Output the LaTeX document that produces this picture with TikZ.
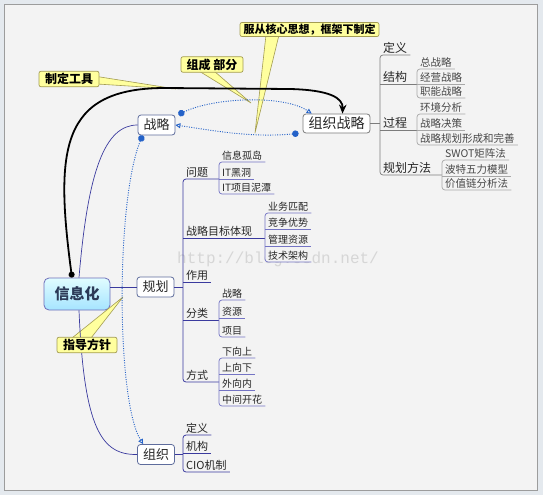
\documentclass[tikz,border=0pt]{standalone}
\usepackage{fontspec}
\newfontfamily\cjk{Noto Sans CJK SC}
\newfontfamily\wmfont{Liberation Mono}
\usetikzlibrary{arrows.meta,calc}
\definecolor{bg}{HTML}{F3F3F3}
\definecolor{outer}{HTML}{E4E9EE}
\definecolor{frame}{HTML}{9C9C9C}
\definecolor{txt}{HTML}{262626}
\definecolor{bluea}{HTML}{3A3A9E}
\definecolor{blueb}{HTML}{7474C4}
\definecolor{graya}{HTML}{7C7C7C}
\definecolor{grayb}{HTML}{A8A8A8}
\definecolor{dotblue}{HTML}{2462C8}
\definecolor{boxline}{HTML}{5E6C9C}
\definecolor{callfill}{HTML}{FFFF9E}
\definecolor{callline}{HTML}{A39C52}
\definecolor{wmcol}{HTML}{D6D6D6}
\tikzset{
  it/.style={anchor=south west, inner xsep=3pt, inner ysep=1.5pt, fill=bg, text=txt},
  ga/.style={it, font=\cjk\fontsize{11}{12}\selectfont},
  gb/.style={it, font=\cjk\fontsize{10}{11}\selectfont},
  za/.style={it, font=\cjk\fontsize{12}{13}\selectfont},
  zb/.style={it, font=\cjk\fontsize{10.5}{12}\selectfont, text=txt!85},
  lna/.style={draw=bluea, line width=0.8pt, rounded corners=3pt},
  lnb/.style={draw=blueb, line width=0.7pt, rounded corners=3pt},
  lga/.style={draw=graya, line width=0.7pt, rounded corners=3pt},
  lgb/.style={draw=grayb, line width=0.7pt, rounded corners=3pt},
  mainbox/.style={draw=boxline, line width=0.8pt, fill=white, rounded corners=3pt,
    minimum width=37pt, minimum height=20pt, inner sep=0pt, text=txt,
    font=\cjk\fontsize{13}{14}\selectfont},
  callout/.style={draw=callline, line width=0.7pt, fill=callfill, rounded corners=2pt,
    inner sep=0pt, minimum height=15.5pt, text=black,
    font=\cjk\bfseries\fontsize{12}{13}\selectfont},
  wedge/.style={draw=callline, line width=0.6pt, fill=callfill, line join=round},
  conn/.style={draw=bluea, line width=0.7pt},
  dotconn/.style={draw=dotblue, line width=0.9pt, dash pattern=on 1pt off 1.4pt,
    {Circle[length=6.5pt]}-{Triangle[open,length=5pt,width=5pt]}},
  blk/.style={draw=black, line width=1.8pt,
    {Circle[length=6pt]}-{Stealth[length=9pt,width=7.5pt]}}
}
\begin{document}
\begin{tikzpicture}[x=1pt,y=-1pt]
\useasboundingbox (0,0) rectangle (543,495);
\fill[outer] (0,0) rectangle (543,495);
\filldraw[fill=bg, draw=frame, line width=0.8pt] (4.5,4.5) rectangle (537.5,490);

% watermark
\node[anchor=base west, inner sep=0pt, text=wmcol, font=\wmfont\fontsize{16}{16}\selectfont] (wm) at (177,263) {http://blog.csdn.net/};

% main nodes
\node[draw=frame!70!blue, line width=0.8pt, rounded corners=5pt, top color=blue!8!cyan!12, bottom color=blue!30!cyan!35,
  minimum width=66pt, minimum height=32pt, inner sep=0pt, text={rgb,255:red,44;green,58;blue,88},
  font=\cjk\bfseries\fontsize{15}{16}\selectfont] (xx) at (77,294) {信息化};
\node[mainbox] (zl) at (156.5,125) {战略};
\node[mainbox] (gh) at (155.5,287) {规划};
\node[mainbox] (zo) at (156,454.5) {组织};
\node[mainbox, draw=graya, minimum width=67pt, minimum height=19pt, font=\cjk\fontsize{14}{15}\selectfont] (zz) at (336.5,123.5) {组织战略};

% 规划 tree
\node[ga] (wt) at (183,179) {问题};
\node[ga] (zm) at (183,238) {战略目标体现};
\node[ga] (zy) at (183,282) {作用};
\node[ga] (fl) at (183,320) {分类};
\node[ga] (fs) at (183,382) {方式};
\node[gb] (q1) at (219,162) {信息孤岛};
\node[gb] (q2) at (219,179) {IT黑洞};
\node[gb] (q3) at (219,194) {IT项目泥潭};
\node[gb] (m1) at (265,213) {业务匹配};
\node[gb] (m2) at (265,229) {竞争优势};
\node[gb] (m3) at (265,246) {管理资源};
\node[gb] (m4) at (265,262) {技术架构};
\node[gb] (c1) at (219,300) {战略};
\node[gb] (c2) at (219,318) {资源};
\node[gb] (c3) at (219,337) {项目};
\node[gb] (f1) at (219,358) {下向上};
\node[gb] (f2) at (219,374) {上向下};
\node[gb] (f3) at (219,390) {外向内};
\node[gb] (f4) at (219,406) {中间开花};

% 组织 tree
\node[ga] (od) at (183,435) {定义};
\node[ga] (oj) at (183,453) {机构};
\node[ga] (oc) at (183,472) {CIO机制};

% 组织战略 tree
\node[za] (zd) at (380,55) {定义};
\node[za] (zj) at (380,84) {结构};
\node[za] (zp) at (380,130) {过程};
\node[za] (zg) at (380,175) {规划方法};
\node[zb] (j1) at (417,69) {总战略};
\node[zb] (j2) at (417,84) {经营战略};
\node[zb] (j3) at (417,98) {职能战略};
\node[zb] (p1) at (417,114) {环境分析};
\node[zb] (p2) at (417,130) {战略决策};
\node[zb] (p3) at (417,145) {战略规划形成和完善};
\node[zb] (g1) at (442,160) {SWOT矩阵法};
\node[zb] (g2) at (442,176) {波特五力模型};
\node[zb] (g3) at (442,190) {价值链分析法};

% tree lines: 规划
\draw[conn] (gh.east) -- (gh.east -| wt.south west);
\draw[lna] (wt.south west -| q1.south west) -- (wt.south west) -- (fs.south west) -- (fs.south west -| f1.south west);
\draw[lna] (zm.south west) -- (zm.south west -| m1.south west);
\draw[lna] (zy.south west) -- (zy.south east);
\draw[lna] (fl.south west) -- (fl.south west -| c1.south west);
\draw[lnb] (q1.south east) -- (q1.south west) -- (q3.south west) -- (q3.south east);
\draw[lnb] (q2.south west) -- (q2.south east);
\draw[lnb] (m1.south east) -- (m1.south west) -- (m4.south west) -- (m4.south east);
\draw[lnb] (m2.south west) -- (m2.south east);
\draw[lnb] (m3.south west) -- (m3.south east);
\draw[lnb] (c1.south east) -- (c1.south west) -- (c3.south west) -- (c3.south east);
\draw[lnb] (c2.south west) -- (c2.south east);
\draw[lnb] (f1.south east) -- (f1.south west) -- (f4.south west) -- (f4.south east);
\draw[lnb] (f2.south west) -- (f2.south east);
\draw[lnb] (f3.south west) -- (f3.south east);

% tree lines: 组织
\draw[conn] (zo.east) -- (zo.east -| od.south west);
\draw[lna] (od.south east) -- (od.south west) -- (oc.south west) -- (oc.south east);
\draw[lna] (oj.south west) -- (oj.south east);

% tree lines: 组织战略
\draw[lga] (zz.east) -- (zz.east -| zd.south west);
\draw[lga] (zd.south east) -- (zd.south west) -- (zg.south west) -- (zg.south west -| g1.south west);
\draw[lga] (zj.south west) -- (zj.south west -| j1.south west);
\draw[lga] (zp.south west) -- (zp.south west -| p1.south west);
\draw[lgb] (j1.south east) -- (j1.south west) -- (j3.south west) -- (j3.south east);
\draw[lgb] (j2.south west) -- (j2.south east);
\draw[lgb] (p1.south east) -- (p1.south west) -- (p3.south west) -- (p3.south east);
\draw[lgb] (p2.south west) -- (p2.south east);
\draw[lgb] (g1.south east) -- (g1.south west) -- (g3.south west) -- (g3.south east);
\draw[lgb] (g2.south west) -- (g2.south east);

% callout wedges
\filldraw[wedge] (97,76.5) -- (176,89) -- (97,84) -- cycle;
\filldraw[wedge] (199,71) -- (251,103) -- (214,71) -- cycle;
\filldraw[wedge] (266,35) -- (255,133) -- (279,35) -- cycle;
\filldraw[wedge] (72,338) -- (123,297) -- (91,338) -- cycle;

% connectors from 信息化
\draw[conn] ([xshift=2pt]xx.north) .. controls (88,170) and (105,125) .. (zl.west);
\draw[conn] (xx.east |- gh.west) -- (gh.west);
\draw[conn] ([xshift=2pt]xx.south) .. controls (84,430) and (102,455) .. (zo.west);

% thick black connector
\draw[blk] ([xshift=-5pt]xx.north) .. controls (55,150) and (60,88) .. (165,88) -- (290,89) .. controls (330,90) and (343,98) .. ([xshift=6pt]zz.north);

% dotted relation connectors
\draw[dotconn] ([xshift=3pt]zl.north east) .. controls (215,97) and (285,95) .. ([xshift=9pt]zz.north west);
\draw[dotconn] ([xshift=-4pt]zz.south west) .. controls (250,138) and (210,130) .. (zl.east);
\draw[dotconn] ([xshift=5pt]zl.south west) .. controls (116,200) and (116,400) .. ([xshift=6pt]zo.north west);

% callouts
\node[callout, minimum width=60pt] (cg) at (69,79) {制定工具};
\node[callout, minimum width=62pt] (cz) at (212,64.5) {组成 部分};
\node[callout, minimum width=139pt, minimum height=14pt, font=\cjk\bfseries\fontsize{11}{12}\selectfont] (cf) at (309.5,29.5) {服从核心思想，框架下制定};
\node[callout, minimum width=60pt] (cd) at (87,345) {指导方针};
\end{tikzpicture}
\end{document}
